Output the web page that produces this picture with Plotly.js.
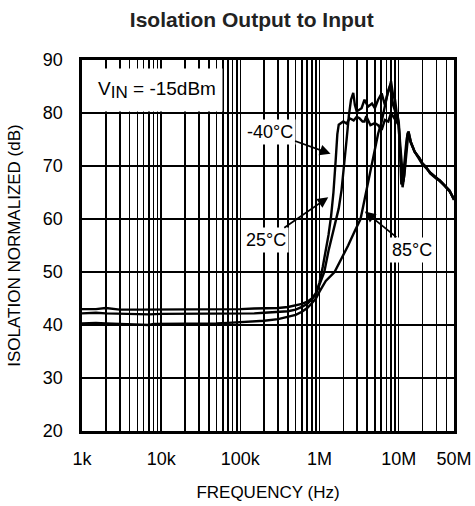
<!DOCTYPE html>
<html>
<head>
<meta charset="utf-8">
<script src="https://cdn.plot.ly/plotly-3.0.1.min.js"></script>
<style>html,body{margin:0;padding:0;background:#fff;}#chart{width:475px;height:506px;}</style>
</head>
<body>
<div id="chart"></div>
<script>
// ---- Data (frequency in Hz, isolation in dB) ----
const freqM40 = [1e3,1.5e3,2e3,2.5e3,3e3,5e3,7e3,1e4,1.5e4,2e4,3e4,5e4,7e4,1e5,1.5e5,2e5,3e5,4e5,5e5,6e5,7e5,8e5,9e5,
  1.0e6,1.1e6,1.2e6,1.3e6,1.4e6,1.5e6,1.6e6,1.68e6,1.75e6,1.85e6,2.0e6,2.2e6,2.4e6,2.7e6,2.95e6,3.2e6,3.5e6,3.7e6,3.9e6,
  4.4e6,5.0e6,5.5e6,6.1e6,6.7e6,7.4e6,8.0e6,8.9e6,10e6,10.4e6,10.8e6,11.2e6,11.8e6,12.4e6,13.0e6,13.5e6,14.2e6,15.9e6,
  18.3e6,20e6,22e6,25e6,30e6,33e6,38e6,44e6,50e6];
const dbM40 = [43.0,43.0,43.2,43.1,42.9,42.9,42.9,42.9,43.0,42.9,42.9,43.0,43.0,43.0,43.1,43.1,43.2,43.4,43.7,44.0,44.4,45.0,46.0,
  48.0,51.0,54.0,57.0,60.5,65.0,71.0,76.0,77.8,78.1,78.4,78.0,79.0,78.6,79.3,79.0,78.4,78.4,79.4,
  77.7,78.1,77.7,76.8,78.7,78.4,80.0,79.0,77.7,73.0,66.5,68.0,70.5,74.0,76.3,75.5,74.4,72.7,
  71.3,70.3,69.7,68.8,67.8,67.3,66.3,65.2,63.8];

const freq25 = [1e3,1.5e3,2e3,3e3,5e3,7e3,1e4,1.5e4,2e4,3e4,5e4,7e4,1e5,1.5e5,2e5,3e5,4e5,5e5,6e5,7e5,8e5,9e5,
  1.0e6,1.15e6,1.3e6,1.45e6,1.6e6,1.75e6,1.9e6,2.05e6,2.2e6,2.35e6,2.5e6,2.67e6,2.8e6,2.95e6,3.2e6,3.4e6,3.7e6,4.1e6,
  4.6e6,5.0e6,5.5e6,6.1e6,6.7e6,7.4e6,7.9e6,8.5e6,9.2e6,10e6,10.5e6,11.2e6,11.6e6,12.2e6,12.8e6,13.3e6,14.2e6,15.9e6,
  18.3e6,20e6,22e6,25e6,30e6,33e6,38e6,44e6,50e6];
const db25 = [42.2,42.3,42.2,42.1,42.1,42.0,42.1,42.1,42.1,42.1,42.2,42.1,42.2,42.2,42.3,42.4,42.6,42.9,43.4,44.0,44.8,45.8,
  47.5,50.0,54.0,57.0,59.5,62.0,65.5,70.0,75.0,79.5,82.5,83.8,81.5,80.3,80.6,80.9,82.5,81.2,
  81.8,80.9,82.5,83.7,81.5,84.3,85.5,81.5,80.0,77.7,72.0,66.0,67.5,71.0,75.5,76.5,74.6,72.7,
  71.5,70.5,69.9,68.6,67.6,67.3,66.4,65.4,63.6];

const freq85 = [1e3,1.5e3,2e3,3e3,5e3,7e3,8e3,1e4,1.5e4,2e4,3e4,5e4,7e4,1e5,1.5e5,2e5,3e5,4e5,5e5,6e5,7e5,8e5,9e5,
  1.0e6,1.2e6,1.55e6,1.9e6,2.3e6,2.8e6,3.3e6,3.7e6,4.0e6,4.4e6,5.0e6,5.5e6,6.1e6,6.7e6,7.2e6,7.7e6,8.0e6,8.5e6,9.0e6,
  9.4e6,10e6,10.4e6,10.9e6,11.4e6,11.8e6,12.4e6,13.3e6,14.2e6,15.9e6,18.3e6,20e6,22e6,25e6,30e6,33e6,38e6,44e6,50e6];
const db85 = [40.3,40.4,40.3,40.2,40.1,40.0,40.2,40.2,40.2,40.2,40.2,40.3,40.4,40.5,40.7,40.8,41.1,41.5,41.9,42.5,43.2,44.1,45.0,
  46.3,48.3,50.0,52.5,55.0,57.8,60.0,63.6,66.0,68.9,73.3,76.1,78.4,81.5,83.5,84.7,86.0,83.4,82.5,
  80.3,78.5,74.6,69.6,67.0,68.3,71.5,76.5,74.6,72.7,71.5,70.4,69.8,68.7,67.7,67.2,66.3,65.3,63.7];

// ---- Axis ticks ----
const xTickVals = [1e3,1e4,1e5,1e6,1e7,5e7];
const xTickText = ['1k','10k','100k','1M','10M','50M'];
const yTickVals = [20,30,40,50,60,70,80,90];

// minor grid positions (2..9 within each decade)
const decades = [1e3,1e4,1e5,1e6,1e7];
const minorVals = [];
decades.forEach(d => { for (let m = 2; m <= 9; m++) { if (d*m <= 5e7) minorVals.push(d*m); } });

const FONT = 'Liberation Sans, Arial, Helvetica, sans-serif';
const lineStyle = {color:'#000', width:2.4};

const traces = [
  {x:freqM40, y:dbM40, name:'-40°C', mode:'lines', line:lineStyle, hoverinfo:'skip'},
  {x:freq25,  y:db25,  name:'25°C',  mode:'lines', line:lineStyle, hoverinfo:'skip'},
  {x:freq85,  y:db85,  name:'85°C',  mode:'lines', line:lineStyle, hoverinfo:'skip'}
];

const L = Math.log10;
const labelFont = {family:FONT, size:18, color:'#000'};
const layout = {
  width:475, height:506,
  margin:{l:82, r:21, t:60, b:75},
  paper_bgcolor:'#fff', plot_bgcolor:'#fff',
  showlegend:false,
  font:{family:FONT, size:18, color:'#000'},
  title:{text:'<b>Isolation Output to Input</b>', font:{family:FONT, size:21, color:'#222'},
         x:0.53, xanchor:'center', y:0.962, yanchor:'middle', yref:'container'},
  xaxis:{
    type:'log', range:[3, L(5e7)],
    tickmode:'array', tickvals:xTickVals, ticktext:xTickText,
    ticks:'', ticklabelstandoff:10,
    showgrid:true, gridcolor:'#000', gridwidth:1.6,
    minor:{tickmode:'array', tickvals:minorVals, showgrid:true, gridcolor:'#000', gridwidth:1.6, ticks:''},
    showline:true, linecolor:'#000', linewidth:2.6, mirror:true,
    zeroline:false,
    tickfont:{family:FONT, size:18, color:'#000'},
    title:{text:'FREQUENCY (Hz)', font:{family:FONT, size:17, color:'#000'}, standoff:18}
  },
  yaxis:{
    range:[20,90], tickmode:'array', tickvals:yTickVals,
    ticks:'', ticklabelstandoff:13,
    showgrid:true, gridcolor:'#000', gridwidth:1.6,
    showline:true, linecolor:'#000', linewidth:2.6, mirror:true,
    zeroline:false,
    tickfont:{family:FONT, size:18, color:'#000'},
    title:{text:'ISOLATION NORMALIZED (dB)', font:{family:FONT, size:17, color:'#000'}, standoff:18}
  },
  annotations:[
    {xref:'paper', yref:'paper', x:0.201, y:0.919, xanchor:'center', yanchor:'middle',
     text:'V<sub><span style="font-size:17px">IN</span></sub> = -15dBm', showarrow:false,
     font:{family:FONT, size:19, color:'#000'},
     bgcolor:'#fff', width:130, height:42, borderpad:0},
    {x:L(1.38e6), y:72.3, text:'-40°C', showarrow:true, ax:-61, ay:-22,
     arrowhead:2, arrowsize:1.2, arrowwidth:1.8, arrowcolor:'#000', font:labelFont, bgcolor:'#fff', borderpad:2},
    {x:L(1.29e6), y:64.1, text:'25°C', showarrow:true, ax:-62, ay:43,
     arrowhead:2, arrowsize:1.2, arrowwidth:1.8, arrowcolor:'#000', font:labelFont, bgcolor:'#fff', borderpad:2},
    {x:L(3.74e6), y:61.4, text:'85°C', showarrow:true, ax:47, ay:38,
     arrowhead:2, arrowsize:1.2, arrowwidth:1.8, arrowcolor:'#000', font:labelFont, bgcolor:'#fff', borderpad:2}
  ]
};

Plotly.newPlot('chart', traces, layout, {staticPlot:true, displayModeBar:false});
</script>
</body>
</html>
